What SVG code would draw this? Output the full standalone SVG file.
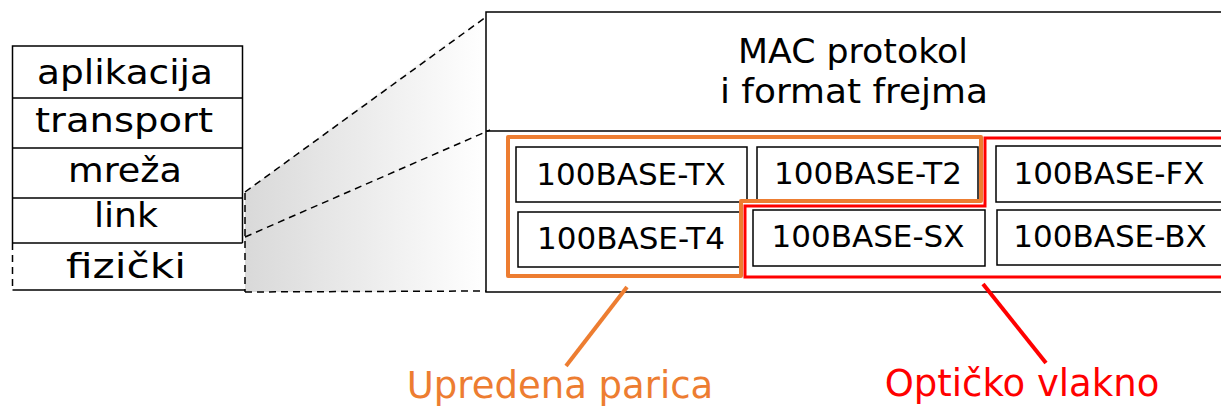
<svg xmlns="http://www.w3.org/2000/svg" width="1221" height="409" viewBox="0 0 1221 409">
<style>
.box{fill:#fff;stroke:#000;stroke-width:1.5}
.lbl{font-family:"DejaVu Sans",sans-serif;fill:#000;text-anchor:middle}
.layer{font-size:33px}
.std{font-size:31px}
.dash{fill:none;stroke:#000;stroke-width:1.5;stroke-dasharray:7,5}
</style>
<defs>
<linearGradient id="g" x1="245" y1="0" x2="486" y2="0" gradientUnits="userSpaceOnUse">
<stop offset="0" stop-color="#d9d9d9"/>
<stop offset="1" stop-color="#ffffff"/>
</linearGradient>
</defs>
<rect width="1221" height="409" fill="#fff"/>
<polygon points="245,192 486,14 486,292 245,292" fill="url(#g)"/>

<g id="stack">
<rect x="12.5" y="46" width="230" height="244" fill="#fff"/>
<polyline points="12.5,243 12.5,46 242.5,46 242.5,243" fill="none" stroke="#000" stroke-width="1.5"/>
<line x1="12.5" y1="98" x2="242.5" y2="98" stroke="#000" stroke-width="1.5"/>
<line x1="12.5" y1="148" x2="242.5" y2="148" stroke="#000" stroke-width="1.5"/>
<line x1="12.5" y1="198" x2="242.5" y2="198" stroke="#000" stroke-width="1.5"/>
<line x1="12.5" y1="243" x2="242.5" y2="243" stroke="#000" stroke-width="1.5"/>
<line x1="12.5" y1="290" x2="245" y2="290" stroke="#000" stroke-width="1.5"/>
<line class="dash" x1="12.5" y1="243" x2="12.5" y2="290"/>
<text class="lbl layer" x="125" y="84" textLength="176" lengthAdjust="spacingAndGlyphs">aplikacija</text>
<text class="lbl layer" x="124" y="132" textLength="178" lengthAdjust="spacingAndGlyphs">transport</text>
<text class="lbl layer" x="125" y="182" textLength="114" lengthAdjust="spacingAndGlyphs">mreža</text>
<text class="lbl layer" x="126" y="227" textLength="64" lengthAdjust="spacingAndGlyphs">link</text>
<text class="lbl layer" x="126" y="278" textLength="120" lengthAdjust="spacingAndGlyphs">fizički</text>
</g>

<g id="mac">
<rect class="box" x="486" y="12" width="745" height="280"/>
<line x1="486" y1="131" x2="1231" y2="131" stroke="#000" stroke-width="1.5"/>
<text class="lbl" x="853" y="63" font-size="33" textLength="230" lengthAdjust="spacingAndGlyphs">MAC protokol</text>
<text class="lbl" x="854" y="103" font-size="33" textLength="268" lengthAdjust="spacingAndGlyphs">i format frejma</text>
</g>

<g id="tx"><rect class="box" x="516" y="147" width="231" height="55"/><text class="lbl std" x="631" y="185">100BASE-TX</text></g>
<g id="t2"><rect class="box" x="757" y="147" width="221" height="54"/><text class="lbl std" x="868" y="184">100BASE-T2</text></g>
<g id="fx"><rect class="box" x="996" y="146" width="240" height="56"/><text class="lbl std" x="1109" y="184">100BASE-FX</text></g>
<g id="t4"><rect class="box" x="518" y="212" width="224" height="55"/><text class="lbl std" x="631" y="249">100BASE-T4</text></g>
<g id="sx"><rect class="box" x="753" y="210" width="232" height="56"/><text class="lbl std" x="868" y="247">100BASE-SX</text></g>
<g id="bx"><rect class="box" x="997" y="210" width="240" height="55"/><text class="lbl std" x="1110" y="247">100BASE-BX</text></g>

<g id="twisted-group">
<path d="M508,137 L981,137 L981,201 L741,201 L741,276 L508,276 Z" fill="none" stroke="#ED7D31" stroke-width="4" stroke-linejoin="round"/>
</g>
<g id="fiber-group">
<path d="M1230,138 L985,138 L985,206 L745,206 L745,277 L1230,277" fill="none" stroke="#FF0000" stroke-width="3"/>
</g>

<g id="connectors">
<line class="dash" x1="245" y1="192" x2="486" y2="17"/>
<line class="dash" x1="245" y1="237" x2="490" y2="130"/>
<line class="dash" x1="245" y1="292" x2="486" y2="291"/>
<line class="dash" x1="245" y1="193" x2="245" y2="292"/>
<line x1="627" y1="287" x2="566" y2="366" stroke="#ED7D31" stroke-width="4"/>
<line x1="983" y1="284" x2="1046" y2="363" stroke="#FF0000" stroke-width="4"/>
</g>

<g id="label-twisted"><text class="lbl" x="560" y="398" font-size="37" style="fill:#ED7D31">Upredena parica</text></g>
<g id="label-fiber"><text class="lbl" x="1022" y="396" font-size="37" style="fill:#FF0000">Optičko vlakno</text></g>
</svg>
